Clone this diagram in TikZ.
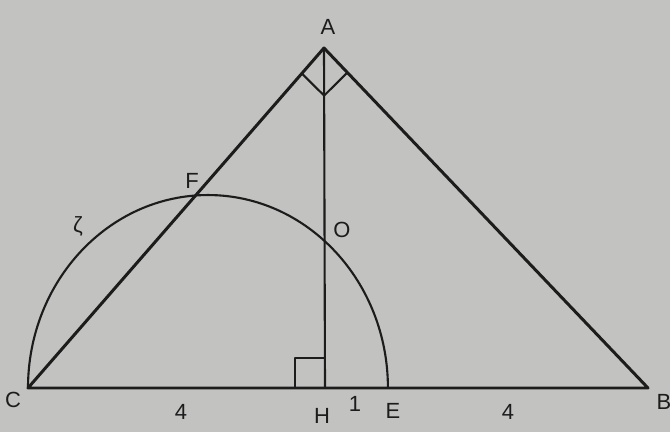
\documentclass[tikz,border=0pt]{standalone}
\usepackage{fontspec}
\setmainfont{Liberation Sans}
\usetikzlibrary{calc}

\definecolor{paper}{RGB}{194,194,192}
\definecolor{ink}{RGB}{28,28,28}

\begin{document}
\begin{tikzpicture}[x=0.02cm,y=-0.02cm,line join=round]
\tikzstyle{every node}=[font=\fontsize{12.5}{14}\selectfont,text=ink]
\tikzstyle{side}=[line width=1.7pt,draw=ink]
\tikzstyle{thin side}=[line width=1.2pt,draw=ink]

\fill[paper] (0,0) rectangle (670,432);
\useasboundingbox (0,0) rectangle (670,432);

\coordinate (A) at (324,48);
\coordinate (C) at (28,388);
\coordinate (B) at (648,388);
\coordinate (H) at (325,388);
\coordinate (E) at (388,388);

% triangle and height
\path[side] (C) -- (A) -- (B) -- cycle;
\path[thin side] (A) -- (H);

% half circle on CE
\path[thin side] (C) arc[start angle=180,end angle=0,x radius=3.6cm,y radius=3.86cm];

% right angles
\path[thin side] ($(A)!0.075!(C)$) -- ($(A)!0.14!(H)$) -- ($(A)!0.072!(B)$);
\path[thin side] (295,388) -- (295,358) -- (325,358);

\node (lA) at (328,27) {A};
\node (lF) at (192,181) {F};
\node (lO) at (342,230) {O};
\node (lz) at (78,226) {ζ};
\node (lC) at (13,400) {C};
\node (lH) at (322,416) {H};
\node (l1) at (355,404) {1};
\node (lE) at (393,411) {E};
\node (lB) at (664,402) {B};
\node (l4a) at (181,412) {4};
\node (l4b) at (508,412) {4};

\end{tikzpicture}
\end{document}
